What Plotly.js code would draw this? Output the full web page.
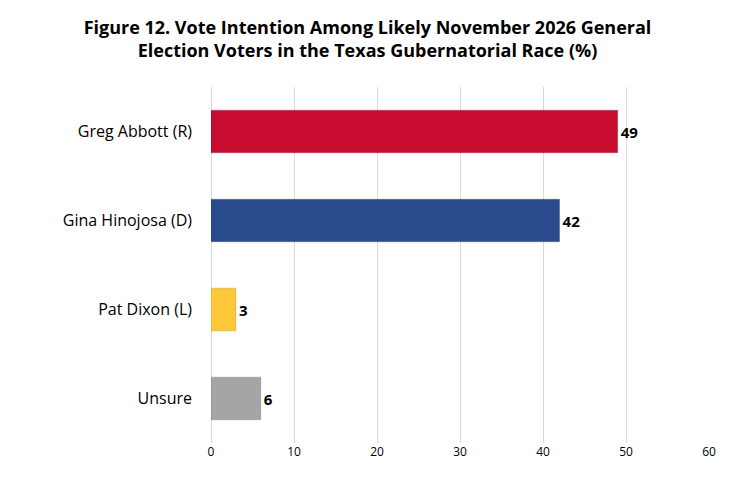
<!DOCTYPE html>
<html>
<head>
<script src="https://cdn.plot.ly/plotly-3.0.1.min.js"></script>
<style>body{margin:0}#chart{width:735px;height:481px}</style>
</head>
<body>
<div id="chart"></div>
<script>
const candidates = ['Greg Abbott (R)', 'Gina Hinojosa (D)', 'Pat Dixon (L)', 'Unsure'];
const shares = [49, 42, 3, 6];
const barColors = ['#C80C2F', '#2A4B8D', '#FFC83A', '#A5A5A5'];

const data = [{
    type: 'bar',
    orientation: 'h',
    y: candidates,
    x: shares,
    text: shares.map(String),
    textposition: 'outside',
    cliponaxis: false,
    textfont: {family: 'Open Sans, Arial', size: 15, color: '#000', weight: 'bold'},
    marker: {color: barColors, line: {color: 'rgba(0,0,0,0.15)', width: 1}},
    width: 0.48,
    hoverinfo: 'none'
}];

const layout = {
    title: {
        text: '<b>Figure 12. Vote Intention Among Likely November 2026 General<br>Election Voters in the Texas Gubernatorial Race (%)</b>',
        font: {family: 'Open Sans, Arial', size: 18, color: '#000'},
        x: 0.5,
        xanchor: 'center',
        y: 0.93
    },
    margin: {l: 211, r: 26, t: 87, b: 38, pad: 0},
    xaxis: {
        range: [0, 60],
        dtick: 10,
        showgrid: true,
        gridcolor: '#D9D9D9',
        zeroline: true,
        zerolinecolor: '#D9D9D9',
        showline: false,
        ticks: '',
        tickfont: {family: 'Open Sans, Arial', size: 12, color: '#000'}
    },
    yaxis: {
        autorange: 'reversed',
        ticks: '',
        ticklabelstandoff: 18,
        tickfont: {family: 'Open Sans, Arial', size: 16, color: '#000'}
    },
    showlegend: false,
    paper_bgcolor: '#fff',
    plot_bgcolor: '#fff'
};

Plotly.newPlot('chart', data, layout, {displayModeBar: false});
</script>
</body>
</html>
